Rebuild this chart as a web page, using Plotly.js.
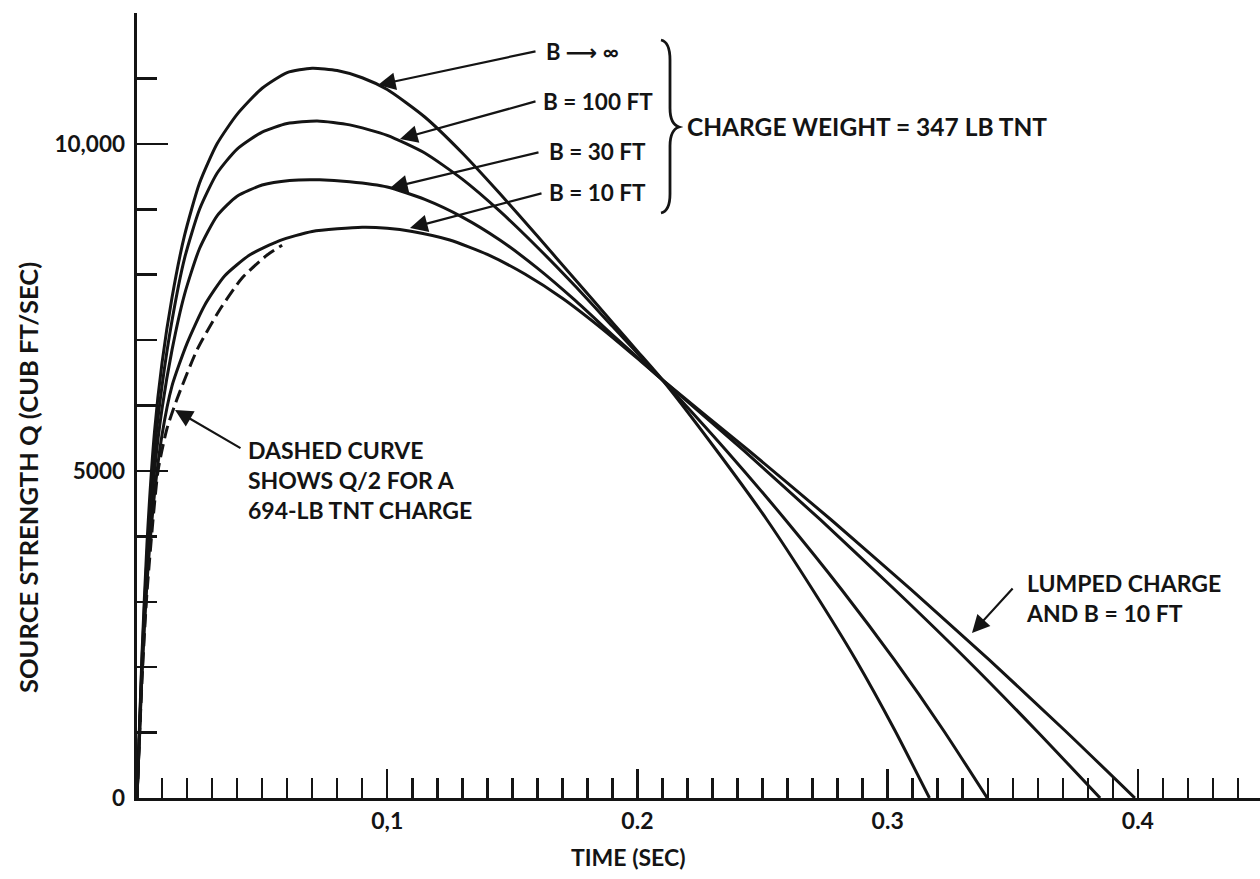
<!DOCTYPE html>
<html>
<head>
<meta charset="utf-8">
<script src="https://cdn.plot.ly/plotly-3.0.1.min.js"></script>
<style>
html,body{margin:0;padding:0;background:#fff;}
#chart{width:1260px;height:879px;}
</style>
</head>
<body>
<div id="chart"></div>
<script>
// ---- Data (time in s, Q in cu ft/s) ----
const tInf  = [0, 0.002, 0.004, 0.007, 0.010, 0.014, 0.019, 0.025, 0.032, 0.040, 0.050, 0.060, 0.070, 0.080, 0.090, 0.100, 0.115, 0.130, 0.145, 0.160, 0.175, 0.190, 0.200, 0.210, 0.2315, 0.2518, 0.2701, 0.2873, 0.3028, 0.3167];
const qInf  = [0, 2200, 3900, 5600, 6650, 7650, 8600, 9400, 10000, 10450, 10850, 11090, 11155, 11120, 11010, 10830, 10410, 9860, 9240, 8590, 7930, 7270, 6830, 6390, 5320, 4250, 3180, 2110, 1040, 0];

const t100  = [0, 0.002, 0.004, 0.007, 0.010, 0.014, 0.019, 0.025, 0.032, 0.040, 0.050, 0.060, 0.072, 0.085, 0.100, 0.115, 0.130, 0.145, 0.160, 0.175, 0.190, 0.200, 0.210, 0.2353, 0.2592, 0.2817, 0.3027, 0.3222, 0.3398];
const q100  = [0, 2100, 3700, 5300, 6300, 7300, 8250, 9000, 9550, 9920, 10180, 10310, 10350, 10290, 10130, 9860, 9460, 8970, 8420, 7830, 7210, 6800, 6390, 5320, 4250, 3180, 2110, 1040, 0];

const t30   = [0, 0.002, 0.004, 0.007, 0.010, 0.014, 0.019, 0.025, 0.032, 0.040, 0.050, 0.061, 0.073, 0.085, 0.100, 0.115, 0.130, 0.145, 0.160, 0.175, 0.190, 0.200, 0.210, 0.2422, 0.2732, 0.3030, 0.3318, 0.3592, 0.3849];
const q30   = [0, 2000, 3500, 5000, 5950, 6850, 7700, 8400, 8900, 9200, 9370, 9440, 9450, 9420, 9340, 9150, 8880, 8530, 8100, 7610, 7080, 6735, 6390, 5320, 4250, 3180, 2110, 1040, 0];

const t10   = [0, 0.002, 0.004, 0.007, 0.010, 0.014, 0.020, 0.027, 0.035, 0.045, 0.057, 0.070, 0.090, 0.100, 0.110, 0.125, 0.140, 0.155, 0.170, 0.185, 0.200, 0.210, 0.2442, 0.2775, 0.3095, 0.3406, 0.3706, 0.3988];
const q10   = [0, 1900, 3300, 4650, 5550, 6300, 6950, 7530, 7980, 8300, 8520, 8660, 8725, 8710, 8660, 8530, 8310, 8010, 7640, 7200, 6720, 6390, 5320, 4250, 3180, 2110, 1040, 0];

const tDash = [0, 0.002, 0.004, 0.0084, 0.012, 0.016, 0.024, 0.033, 0.042, 0.052, 0.058];
const qDash = [0, 1800, 3150, 5000, 5650, 6100, 6850, 7460, 7950, 8300, 8450];

const xTickVals = [0.1, 0.2, 0.3, 0.4];
const xTickText = ['0,1', '0.2', '0.3', '0.4'];
const yTickVals = [0, 5000, 10000, 12000];
const yTickText = ['0', '5000', '10,000', ''];

// ---- layout geometry ----
const W = 1260, H = 879;
const ML = 137, MR = 0, MT = 13, MB = 81;
const XMAX = 0.4488, YMAX = 12000;
const pw = W - ML - MR, ph = H - MT - MB;
// pixel -> data/paper helpers for annotation placement
const dx = px => (px - ML) / pw * XMAX;
const dy = py => (H - MB - py) / ph * YMAX;
const paperX = px => (px - ML) / pw;
const paperY = py => (H - MB - py) / ph;

const FONT = 'Lato, "Open Sans", "DejaVu Sans", sans-serif';
const INK = '#141414';
const WT = 'bold';

function curve(t, q, dash) {
  return {
    x: t, y: q, type: 'scatter', mode: 'lines',
    line: {color: INK, width: 3, shape: 'spline', smoothing: 0.6, dash: dash || 'solid'},
    hoverinfo: 'skip', showlegend: false
  };
}

const data = [
  curve(tInf, qInf),
  curve(t100, q100),
  curve(t30, q30),
  curve(t10, q10),
  curve(tDash, qDash, '13px,6px')
];

function label(px, py, text, size, anchor, angle) {
  return {x: paperX(px), y: paperY(py), xref: 'paper', yref: 'paper', text: text, showarrow: false,
          xanchor: anchor || 'left', yanchor: 'middle', align: 'left', textangle: angle || 0,
          font: {family: FONT, size: size, color: INK, weight: WT}};
}
function arrow(tailPx, tailPy, headPx, headPy) {
  return {x: dx(headPx), y: dy(headPy), ax: dx(tailPx), ay: dy(tailPy),
          xref: 'x', yref: 'y', axref: 'x', ayref: 'y', text: '', showarrow: true,
          arrowhead: 2, arrowsize: 1.6, arrowwidth: 2.2, arrowcolor: INK, standoff: 0, startstandoff: 0};
}

const annotations = [
  label(544, 52, 'B \u27F6 \u221E', 22),
  arrow(537, 51, 378, 85),
  label(541, 102, 'B = 100 FT', 22.5),
  arrow(537, 101, 400, 139),
  label(547, 152, 'B = 30 FT', 22.5),
  arrow(540, 152, 390, 188),
  label(547, 193, 'B = 10 FT', 22.5),
  arrow(543, 193, 410, 228),
  label(685, 127, 'CHARGE WEIGHT = 347 LB TNT', 24.5),
  label(246, 480, 'DASHED CURVE<br>SHOWS Q/2 FOR A<br>694-LB TNT CHARGE', 23),
  arrow(242, 449, 175, 410),
  label(1024, 598, 'LUMPED CHARGE<br>AND B = 10 FT', 23),
  arrow(1014, 587, 972, 633),
  label(628, 857, 'TIME (SEC)', 23, 'center'),
  label(28, 478, 'SOURCE STRENGTH Q (CUB FT/SEC)', 25.5, 'center', -90)
];

// curly brace drawn as a path (paper coordinates)
function P(px, py) { return paperX(px).toFixed(5) + ',' + paperY(py).toFixed(5); }
const bracePath = 'M' + P(661, 40) + ' Q' + P(670, 42) + ' ' + P(670, 60) +
  ' L' + P(670, 108) + ' Q' + P(670, 124) + ' ' + P(679, 127) +
  ' Q' + P(670, 130) + ' ' + P(670, 146) + ' L' + P(670, 194) +
  ' Q' + P(670, 211) + ' ' + P(661, 213);

const layout = {
  width: W, height: H,
  margin: {l: ML, r: MR, t: MT, b: MB, pad: 0},
  paper_bgcolor: '#ffffff', plot_bgcolor: '#ffffff',
  font: {family: FONT, color: INK},
  showlegend: false,
  xaxis: {
    range: [0, XMAX], showgrid: false, zeroline: false,
    showline: true, linecolor: INK, linewidth: 3,
    tickmode: 'array', tickvals: xTickVals, ticktext: xTickText,
    ticks: 'inside', ticklen: 29, tickwidth: 2.5, tickcolor: INK,
    minor: {tick0: 0, dtick: 0.01, ticks: 'inside', ticklen: 20, tickwidth: 2.5, tickcolor: INK, showgrid: false},
    tickfont: {family: FONT, size: 23, color: INK, weight: WT}
  },
  yaxis: {
    range: [0, YMAX], showgrid: false, zeroline: false,
    showline: true, linecolor: INK, linewidth: 3.5,
    tickmode: 'array', tickvals: yTickVals, ticktext: yTickText,
    ticks: 'inside', ticklen: 31, tickwidth: 2.5, tickcolor: INK,
    minor: {tick0: 0, dtick: 1000, ticks: 'inside', ticklen: 20, tickwidth: 2.5, tickcolor: INK, showgrid: false},
    tickfont: {family: FONT, size: 22.5, color: INK, weight: WT},
    ticklabelstandoff: 4
  },
  annotations: annotations,
  shapes: [{type: 'path', xref: 'paper', yref: 'paper', path: bracePath,
            line: {color: INK, width: 2.8}}]
};

Plotly.newPlot('chart', data, layout, {staticPlot: true, displayModeBar: false});
</script>
</body>
</html>
